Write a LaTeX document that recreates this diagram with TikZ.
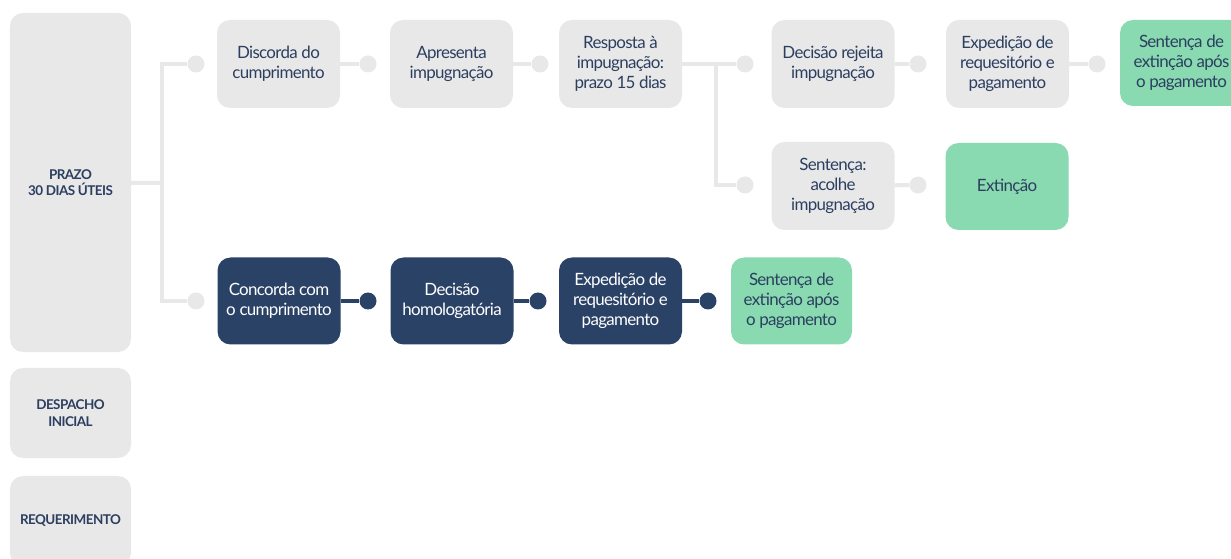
\documentclass[tikz,border=0pt]{standalone}
\usepackage{fontspec}
\setmainfont{Lato}
\usetikzlibrary{positioning}

\definecolor{navy}{HTML}{2B4267}
\definecolor{ink}{HTML}{2C3F60}
\definecolor{boxgray}{HTML}{E8E8E8}
\definecolor{mint}{HTML}{89D9B1}

\tikzset{
  stage/.style={rounded corners=13bp, minimum width=123bp, minimum height=88bp,
    align=center, inner sep=2bp,
    font=\fontsize{17}{20}\selectfont\addfontfeature{LetterSpace=-4},
    text=ink, fill=boxgray},
  done/.style={stage, fill=mint},
  agree/.style={stage, fill=navy, text=white},
  phase/.style={rounded corners=13bp, fill=boxgray, minimum width=121bp,
    align=center, inner sep=2bp,
    font=\bfseries\fontsize{13.5}{16.5}\selectfont\addfontfeature{LetterSpace=-4},
    text=ink},
  link/.style={line width=4bp, draw=boxgray},
  linkdark/.style={line width=4bp, draw=navy},
  knob/.style={circle, fill=boxgray, minimum size=17bp, inner sep=0pt},
  knobdark/.style={knob, fill=navy}
}

\begin{document}
\begin{tikzpicture}[x=1bp, y=-1bp]
  \useasboundingbox (0,0) rectangle (1231,559);

  % Left column
  \node[phase, minimum height=339bp] (prazo) at (70.5,182.5) {PRAZO\\30 DIAS ÚTEIS};
  \node[phase, minimum height=90bp] (despacho) at (70.5,413) {DESPACHO\\INICIAL};
  \node[phase, minimum height=90bp] (requer) at (70.5,521) {REQUERIMENTO};

  % Upper branch
  \node[stage] (discorda) at (278.5,64) {Discorda do\\cumprimento};
  \node[stage] (apresenta) at (451.5,64) {Apresenta\\impugnação};
  \node[stage] (resposta) at (620.5,64) {Resposta à\\impugnação:\\prazo 15 dias};
  \node[stage] (rejeita) at (833,64) {Decisão rejeita\\impugnação};
  \node[stage] (expedA) at (1007.5,64) {Expedição de\\requesitório e\\pagamento};
  \node[done, minimum height=86bp] (sentA) at (1181.5,63) {Sentença de\\extinção após\\o pagamento};
  \node[stage] (acolhe) at (833,186) {Sentença:\\acolhe\\impugnação};
  \node[done, minimum height=87bp] (extincao) at (1007,186.5) {Extinção};

  % Lower branch
  \node[agree, minimum height=87bp] (concorda) at (279,301) {Concorda com\\o cumprimento};
  \node[agree, minimum height=87bp] (homolog) at (452,301) {Decisão\\homologatória};
  \node[agree, minimum height=87bp] (expedB) at (620.5,301) {Expedição de\\requesitório e\\pagamento};
  \node[done, minimum height=87bp, minimum width=121bp] (sentB) at (791.5,301) {Sentença de\\extinção após\\o pagamento};

  % Dots
  \node[knob] (k1) at (196,64) {};
  \node[knob] (k2) at (368,64) {};
  \node[knob] (k3) at (540,64) {};
  \node[knob] (k5) at (745,64) {};
  \node[knob] (k6) at (918,64) {};
  \node[knob] (k7) at (1097,64) {};
  \node[knob] (k8) at (745,185) {};
  \node[knob] (k9) at (918,185) {};
  \node[knob] (k4) at (196,301) {};
  \node[knobdark] (n1) at (368,301) {};
  \node[knobdark] (n2) at (538,301) {};
  \node[knobdark] (n3) at (708,301) {};

  % Connectors
  \coordinate (fork) at (162,183);
  \coordinate (fork2) at (716,64);
  \draw[link] (prazo) -- (fork);
  \draw[link] (k1) -| (fork) |- (k4);
  \draw[link] (discorda) -- (k2);
  \draw[link] (apresenta) -- (k3);
  \draw[link] (resposta) -- (k5);
  \draw[link] (fork2) |- (k8);
  \draw[link] (rejeita) -- (k6);
  \draw[link] (expedA) -- (k7);
  \draw[link] (acolhe) -- (k9);
  \draw[linkdark] (concorda) -- (n1);
  \draw[linkdark] (homolog) -- (n2);
  \draw[linkdark] (expedB) -- (n3);
\end{tikzpicture}
\end{document}
